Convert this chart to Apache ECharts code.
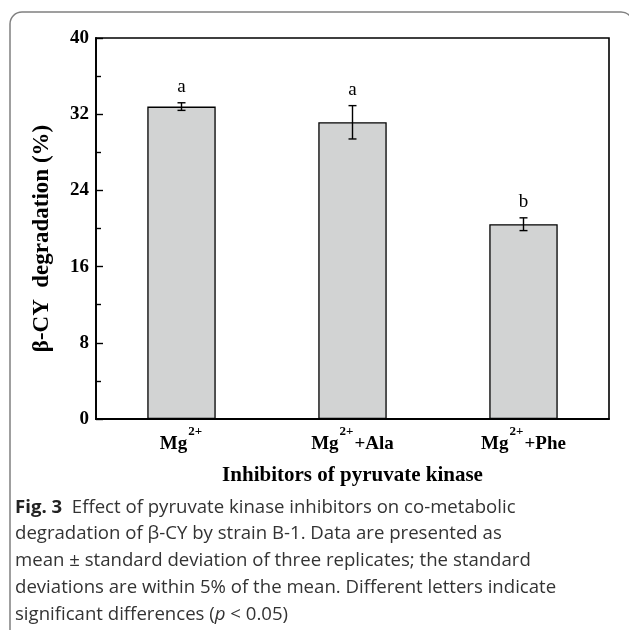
<!DOCTYPE html>
<html><head><meta charset="utf-8">
<script src="https://cdn.jsdelivr.net/npm/echarts@6/dist/echarts.min.js"></script>
<style>html,body{margin:0;padding:0;background:#fff}#c{width:629px;height:630px}</style>
</head><body><div id="c"></div>
<script>
var categories = ['Mg2+', 'Mg2+ +Ala', 'Mg2+ +Phe'];
var catLabels = ['{b|Mg}{s|2+}', '{b|Mg}{s|2+}{b|+Ala}', '{b|Mg}{s|2+}{b|+Phe}'];
var means = [32.8, 31.15, 20.45];
var errors = [0.4, 1.75, 0.67];
var letters = ['a', 'a', 'b'];
var yTicks = [0, 8, 16, 24, 32, 40];
var captionLines = [
  ['Fig. 3', '  Effect of pyruvate kinase inhibitors on co-metabolic'],
  ['', 'degradation of β-CY by strain B-1. Data are presented as'],
  ['', 'mean ± standard deviation of three replicates; the standard'],
  ['', 'deviations are within 5% of the mean. Different letters indicate'],
  ['', 'significant differences (p < 0.05)']
];

var serif = '"Liberation Serif","Times New Roman",serif';
var chart = echarts.init(document.getElementById('c'));
var errData = means.map(function (m, i) { return [i, m, errors[i], letters[i]]; });

var graphics = [{
  type: 'rect', shape: {x: 10, y: 12, width: 623, height: 640, r: 12},
  style: {fill: 'none', stroke: '#808080', lineWidth: 1.5}, silent: true, z: 0
}];
var capTop = 511, capStep = 26.7, capSize = 18.6;
captionLines.forEach(function (ln, i) {
  var txt = ln[0] ? '{f|' + ln[0] + '}{t|' + ln[1] + '}' : '{t|' + ln[1] + '}';
  if (i === 4) txt = '{t|significant differences (}{i|p}{t| < 0.05)}';
  graphics.push({
    type: 'text', left: 15, top: capTop + i * capStep - 13,
    style: {
      text: txt,
      rich: {
        f: {fontFamily: '"Open Sans",sans-serif', fontWeight: 'bold', fontSize: capSize, fill: '#222'},
        t: {fontFamily: '"Open Sans",sans-serif', fontSize: capSize, fill: '#333'},
        i: {fontFamily: '"Open Sans",sans-serif', fontStyle: 'italic', fontSize: capSize, fill: '#333'}
      }
    }
  });
});

chart.setOption({
  animation: false,
  backgroundColor: '#fff',
  graphic: graphics,
  grid: {left: 96, right: 20, top: 38, bottom: 211, show: true, borderColor: '#000', borderWidth: 1.6},
  xAxis: [{
    type: 'category', data: categories, position: 'bottom',
    axisLine: {lineStyle: {color: '#000', width: 1.8}},
    axisTick: {alignWithLabel: true, inside: true, length: 6, lineStyle: {color: '#000', width: 1.4}},
    axisLabel: {
      margin: 6,
      formatter: function (v, i) { return catLabels[i]; },
      rich: {
        b: {fontFamily: serif, fontWeight: 'bold', fontSize: 19, color: '#000', verticalAlign: 'bottom'},
        s: {fontFamily: serif, fontWeight: 'bold', fontSize: 13, color: '#000', verticalAlign: 'top', padding: [0, 1, 16, 1]}
      }
    },
    name: 'Inhibitors of pyruvate kinase', nameLocation: 'middle', nameGap: 46,
    nameTextStyle: {fontFamily: serif, fontWeight: 'bold', fontSize: 21, color: '#000'}
  }, {
    type: 'category', data: categories, position: 'bottom',
    axisLine: {show: false},
    axisTick: {inside: true, length: 4, lineStyle: {color: '#000', width: 1.4}},
    axisLabel: {show: false}
  }],
  yAxis: {
    type: 'value', min: 0, max: 40, interval: 8,
    axisLine: {show: true, lineStyle: {color: '#000', width: 1.8}},
    axisTick: {show: true, inside: true, length: 7, lineStyle: {color: '#000', width: 1.4}},
    minorTick: {show: true, splitNumber: 2, length: 5, lineStyle: {color: '#000', width: 1.4}},
    splitLine: {show: false},
    axisLabel: {
      margin: 7, fontFamily: serif, fontWeight: 'bold', fontSize: 19, color: '#000',
      formatter: function (v) { return yTicks.indexOf(v) >= 0 ? String(v) : ''; }
    },
    name: 'β-CY  degradation (%)', nameLocation: 'middle', nameGap: 42, nameRotate: 90,
    nameTextStyle: {fontFamily: serif, fontWeight: 'bold', fontSize: 23, color: '#000', padding: [0, 20, 0, 0]}
  },
  series: [{
    type: 'bar', data: means, barWidth: '40%', xAxisIndex: 0,
    itemStyle: {color: '#d2d3d3', borderColor: '#000', borderWidth: 1.3}
  }, {
    type: 'custom', data: errData, xAxisIndex: 0, z: 5,
    renderItem: function (params, api) {
      var x = api.value(0), m = api.value(1), e = api.value(2);
      var top = api.coord([x, m + e]), bot = api.coord([x, m - e]);
      var hw = 4;
      return {
        type: 'group', children: [
          {type: 'line', shape: {x1: top[0], y1: top[1], x2: bot[0], y2: bot[1]}, style: {stroke: '#000', lineWidth: 1.4}},
          {type: 'line', shape: {x1: top[0] - hw, y1: top[1], x2: top[0] + hw, y2: top[1]}, style: {stroke: '#000', lineWidth: 1.4}},
          {type: 'line', shape: {x1: bot[0] - hw, y1: bot[1], x2: bot[0] + hw, y2: bot[1]}, style: {stroke: '#000', lineWidth: 1.4}},
          {type: 'text', style: {text: letters[params.dataIndex], x: top[0], y: top[1] - 6, textAlign: 'center', textVerticalAlign: 'bottom',
            font: '19px ' + serif, fill: '#000'}}
        ]
      };
    }
  }]
});
</script></body></html>
